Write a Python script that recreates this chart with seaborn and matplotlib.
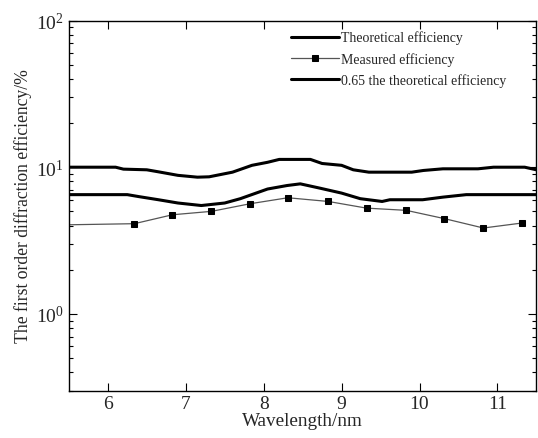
import numpy as np
import pandas as pd
import matplotlib
matplotlib.use('Agg')
import matplotlib.pyplot as plt
import seaborn as sns

# data
x_theory = [5.5, 6.1, 6.2, 6.5, 6.65, 6.9, 7.15, 7.3, 7.6, 7.85, 8.05, 8.2, 8.6,
            8.75, 9.0, 9.15, 9.35, 9.9, 10.05, 10.3, 10.75, 10.95, 11.35, 11.5]
theory = [10.0, 10.0, 9.7, 9.6, 9.3, 8.8, 8.55, 8.6, 9.25, 10.3, 10.8, 11.3, 11.3,
          10.6, 10.3, 9.6, 9.25, 9.25, 9.5, 9.75, 9.75, 10.0, 10.0, 9.6]

x_lower = [5.5, 6.25, 6.4, 6.65, 6.9, 7.2, 7.5, 7.7, 8.05, 8.3, 8.47, 8.72, 9.0,
           9.24, 9.52, 9.62, 10.04, 10.3, 10.6, 11.5]
lower = [6.5, 6.5, 6.3, 6.0, 5.7, 5.48, 5.7, 6.1, 7.1, 7.5, 7.7, 7.2, 6.66,
         6.1, 5.84, 6.0, 6.0, 6.25, 6.5, 6.5]

x_meas = [5.5, 6.34, 6.83, 7.33, 7.83, 8.31, 8.83, 9.32, 9.83, 10.32, 10.82, 11.31]
meas = [4.05, 4.12, 4.74, 5.0, 5.64, 6.19, 5.84, 5.26, 5.08, 4.46, 3.85, 4.16]

x_ticks = [6, 7, 8, 9, 10, 11]

sns.set_theme(style='ticks')
plt.rcParams['font.family'] = ['Liberation Serif', 'DejaVu Serif']
plt.rcParams['mathtext.fontset'] = 'custom'
plt.rcParams['mathtext.rm'] = 'Liberation Serif'

df_t = pd.DataFrame({'x': x_theory, 'y': theory})
df_l = pd.DataFrame({'x': x_lower, 'y': lower})
df_m = pd.DataFrame({'x': x_meas, 'y': meas})

fig = plt.figure(figsize=(5.38, 4.39), dpi=100)
ax = fig.add_axes([0.128, 0.108, 0.869, 0.843])

sns.lineplot(data=df_t, x='x', y='y', ax=ax, color='black', linewidth=2.2,
             label='Theoretical efficiency')
sns.lineplot(data=df_m, x='x', y='y', ax=ax, color='#555555', linewidth=0.9,
             marker='s', markersize=4, markerfacecolor='black', markeredgecolor='black',
             markevery=list(range(1, len(x_meas))), label='Measured efficiency')
sns.lineplot(data=df_l, x='x', y='y', ax=ax, color='black', linewidth=2.2,
             label='0.65 the theoretical efficiency')

ax.set_yscale('log')
ax.set_xlim(5.5, 11.5)
ax.set_ylim(0.3, 100)
ax.set_xticks(x_ticks)
ax.set_xticklabels([str(t) for t in x_ticks])
ax.tick_params(which='both', direction='in', top=True, right=True, labelsize=14, color='black')
ax.tick_params(which='major', length=6, width=0.8)
ax.tick_params(which='minor', length=3, width=0.8)
ax.tick_params(axis='x', which='minor', bottom=False, top=False)
for s in ax.spines.values():
    s.set_linewidth(1.0)
    s.set_color('black')

ax.set_xlabel('Wavelength/nm', fontsize=13.8, labelpad=0)
ax.set_ylabel('The first order diffraction efficiency/%', fontsize=12.7, labelpad=3)

ax.legend(loc='upper left', bbox_to_anchor=(0.455, 0.999), frameon=False, fontsize=10,
          handlelength=3.45, handletextpad=0.1, labelspacing=0.55, borderpad=0.2)

fig.savefig('out.png', dpi=100)
